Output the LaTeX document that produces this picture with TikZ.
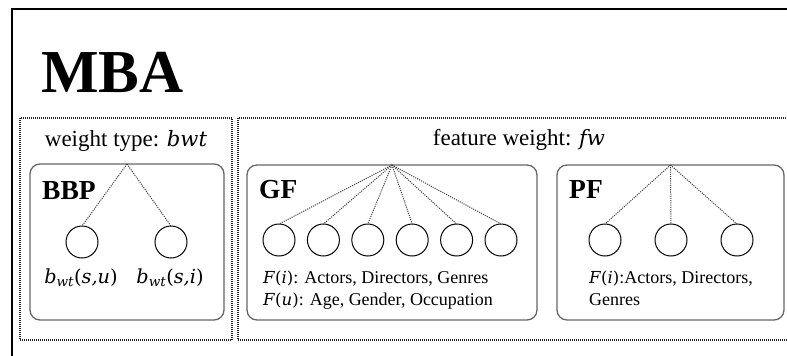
\documentclass[tikz,border=0pt]{standalone}
\usepackage{fontspec}
\setmainfont{Liberation Serif}
\newfontfamily\varfont[Scale=0.92]{DejaVu Serif}
\newcommand{\var}[1]{{\varfont\itshape #1}}
\newcommand{\fn}[2]{{\varfont\textit{#1}(\textit{#2})}}
\usetikzlibrary{positioning}

\begin{document}
\begin{tikzpicture}[
    x=1pt, y=-1pt,
    panel/.style={draw=black!60, line width=1.3pt, rounded corners=10pt, outer sep=0pt, anchor=north west},
    group/.style={draw=black!85, dash pattern=on 1pt off 1pt, line width=1.1pt},
    leaf/.style={circle, draw, line width=1pt, minimum size=32pt, inner sep=0pt, outer sep=0pt},
    link/.style={draw=black!75, dash pattern=on 1.1pt off 1.1pt, line width=1pt},
    heading/.style={font=\fontsize{27.5}{30}\selectfont\bfseries, anchor=base west, inner sep=0pt},
    caption/.style={font=\fontsize{23}{26}\selectfont, anchor=base, inner sep=0pt},
    note/.style={font=\fontsize{18}{22}\selectfont, anchor=base west, inner sep=0pt}
]
\useasboundingbox (0,0) rectangle (787,356);
\clip (0,0) rectangle (787,356);

% Outer frame and title
\draw[line width=1.5pt] (12,370) -- (12,9) -- (800,9);
\node[font=\fontsize{61}{62}\selectfont\bfseries, anchor=base west, inner sep=0pt] (title) at (41,92) {MBA};

% Weight type group
\draw[group] (20,118) rectangle (232,340);
\node[caption] (bwt) at (126,146) {weight type: \var{bwt}};
\node[panel, minimum width=194pt, minimum height=156pt] (bbp) at (30,164) {};
\node[heading] (bbplabel) at (42,199) {BBP};
\node[leaf] (b1) at (82,242) {};
\node[leaf, right=57pt of b1] (b2) {};
\node[caption, font=\fontsize{21}{24}\selectfont] (b1label) at (81,283) {\var{b\textsubscript{wt}}\fn{}{s,u}};
\node[caption, font=\fontsize{21}{24}\selectfont] (b2label) at (170,283) {\var{b\textsubscript{wt}}\fn{}{s,i}};

% Feature weight group
\draw[group] (238,118) rectangle (800,340);
\node[caption] (fw) at (519,145) {feature weight: \var{fw}};

% General features
\node[panel, minimum width=290pt, minimum height=155pt] (gf) at (247,165) {};
\node[heading] (gflabel) at (259,198) {GF};
\node[leaf] (g1) at (279,240) {};
\node[leaf, right=12.4pt of g1] (g2) {};
\node[leaf, right=12.4pt of g2] (g3) {};
\node[leaf, right=12.4pt of g3] (g4) {};
\node[leaf, right=12.4pt of g4] (g5) {};
\node[leaf, right=12.4pt of g5] (g6) {};
\node[note] (gfi) at (263,283) {\fn{F}{i}: Actors, Directors, Genres};
\node[note] (gfu) at (263,305) {\fn{F}{u}: Age, Gender, Occupation};

% Personal features
\node[panel, minimum width=227pt, minimum height=155pt] (pf) at (557,165) {};
\node[heading] (pflabel) at (569,198) {PF};
\node[leaf] (p1) at (605,240) {};
\node[leaf, right=34pt of p1] (p2) {};
\node[leaf, right=34pt of p2] (p3) {};
\node[note] (pfi) at (589,283) {\fn{F}{i}:Actors, Directors,};
\node[note] (pfg) at (589,305) {Genres};

% Edges
\draw[link] (bbp.north) -- (b1.north);
\draw[link] (bbp.north) -- (b2.north);
\draw[link] (gf.north) -- (g1.north);
\draw[link] (gf.north) -- (g2.north);
\draw[link] (gf.north) -- (g3.north);
\draw[link] (gf.north) -- (g4.north);
\draw[link] (gf.north) -- (g5.north);
\draw[link] (gf.north) -- (g6.north);
\draw[link] (pf.north) -- (p1.north);
\draw[link] (pf.north) -- (p2.north);
\draw[link] (pf.north) -- (p3.north);

\end{tikzpicture}
\end{document}
